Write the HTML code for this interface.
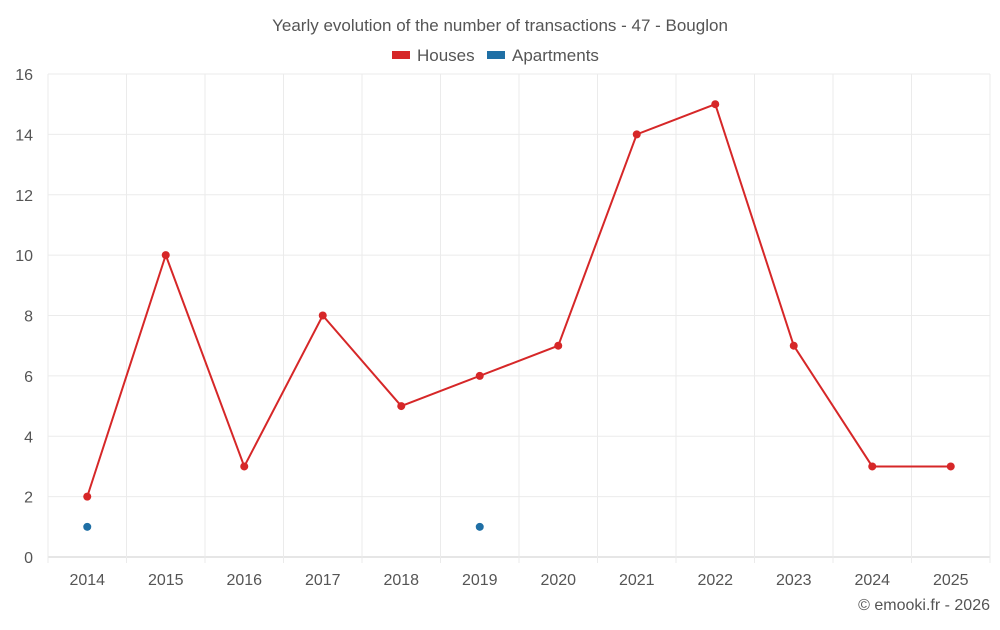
<!DOCTYPE html>
<html><head><meta charset="utf-8"><style>
body{margin:0;background:#fff;font-family:"Liberation Sans",sans-serif;}
svg text{font-family:"Liberation Sans",sans-serif;}
</style></head><body>
<svg id="chart" width="1000" height="625">
<text x="500" y="31" text-anchor="middle" font-size="17" fill="#555">Yearly evolution of the number of transactions - 47 - Bouglon</text>
<g><rect x="392" y="51" width="18" height="8" fill="#d62728"/><text x="417" y="61" font-size="17" fill="#555">Houses</text></g>
<g><rect x="487" y="51" width="18" height="8" fill="#1f6fa5"/><text x="512" y="61" font-size="17" fill="#555">Apartments</text></g>
<g id="grid"></g><g id="marks"></g>
<text x="990" y="610" text-anchor="end" font-size="16" fill="#555">© emooki.fr - 2026</text>
</svg>
<script>
const categories=["2014","2015","2016","2017","2018","2019","2020","2021","2022","2023","2024","2025"];
const houses=[2,10,3,8,5,6,7,14,15,7,3,3];
const apartments=[1,null,null,null,null,1,null,null,null,null,null,null];
const yTicks=[0,2,4,6,8,10,12,14,16];
const L=48,R=990,T=74,B=557,yMax=16;
const bw=(R-L)/categories.length;
const x=i=>L+bw*(i+0.5);
const y=v=>B-(B-T)*v/yMax;
const NS="http://www.w3.org/2000/svg";
function mk(tag,attrs,parent){const e=document.createElementNS(NS,tag);for(const k in attrs)e.setAttribute(k,attrs[k]);parent.appendChild(e);return e;}
const g=document.getElementById('grid'),m=document.getElementById('marks');
yTicks.forEach(t=>{
 const l=mk('line',{x1:L,x2:R,y1:y(t),y2:y(t),stroke:t===0?'#ccc':'#ebebeb'},g);
 
 
 const tx=mk('text',{x:33,y:y(t)+6,'text-anchor':'end','font-size':16,fill:'#555'},g);tx.textContent=t;
 
 
});
for(let i=0;i<=categories.length;i++){
 const l=mk('line',{x1:L+bw*i,x2:L+bw*i,y1:T,y2:B+6,stroke:'#ebebeb'},g);
 
 
}
categories.forEach((c,i)=>{
 const tx=mk('text',{x:x(i),y:585,'text-anchor':'middle','font-size':16,fill:'#555'},g);tx.textContent=c;
 
 
});
const p=mk('polyline',{points:houses.map((v,i)=>x(i)+','+y(v)).join(' '),fill:'none',stroke:'#d62728','stroke-width':2},m);


houses.forEach((v,i)=>{
 const c=mk('circle',{cx:x(i),cy:y(v),r:4,fill:'#d62728'},m);
 
 
});
apartments.forEach((v,i)=>{
 if(v===null)return;
 const c=mk('circle',{cx:x(i),cy:y(v),r:4,fill:'#1f6fa5'},m);
 
 
});
</script>
</body></html>
